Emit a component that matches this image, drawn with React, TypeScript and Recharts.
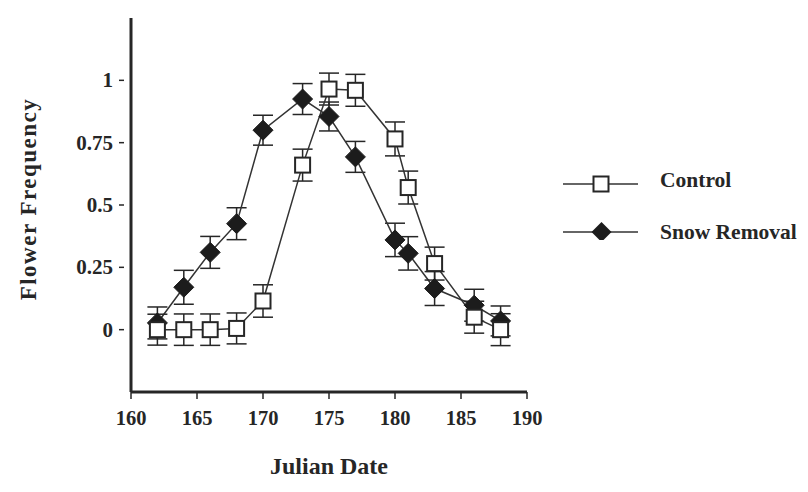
import React from "react";
import { LineChart, Line, XAxis, YAxis, ErrorBar } from "recharts";

const dates = [162, 164, 166, 168, 170, 173, 175, 177, 180, 181, 183, 186, 188];
const controlValues = [0, 0, 0, 0.005, 0.115, 0.66, 0.965, 0.96, 0.765, 0.57, 0.265, 0.05, 0];
const controlErr = [0.062, 0.063, 0.063, 0.062, 0.065, 0.064, 0.064, 0.064, 0.068, 0.066, 0.066, 0.064, 0.064];
const snowValues = [0.027, 0.17, 0.31, 0.425, 0.8, 0.925, 0.855, 0.693, 0.36, 0.306, 0.165, 0.098, 0.035];
const snowErr = [0.064, 0.068, 0.064, 0.064, 0.06, 0.062, 0.058, 0.062, 0.067, 0.067, 0.068, 0.064, 0.06];
const xTicks = [160, 165, 170, 175, 180, 185, 190];
const yTicks = [0, 0.25, 0.5, 0.75, 1];
const seriesNames = ["Control", "Snow Removal"];

const data = dates.map((d, i) => ({
  date: d,
  control: controlValues[i],
  controlErr: controlErr[i],
  snow: snowValues[i],
  snowErr: snowErr[i],
}));

const FONT = "'Liberation Serif', 'Times New Roman', serif";
const INK = "#262626";

const Square = (p: any) => {
  if (p.cx == null || p.cy == null) return null;
  return (
    <rect
      key={`sq-${p.index}`}
      x={p.cx - 7.5}
      y={p.cy - 7.5}
      width={15}
      height={15}
      fill="#fff"
      stroke={INK}
      strokeWidth={2}
    />
  );
};

const Diamond = (p: any) => {
  if (p.cx == null || p.cy == null) return null;
  const r = 10;
  return (
    <polygon
      key={`dm-${p.index}`}
      points={`${p.cx},${p.cy - r} ${p.cx + r},${p.cy} ${p.cx},${p.cy + r} ${p.cx - r},${p.cy}`}
      fill="#1c1c1c"
      stroke="#1c1c1c"
      strokeWidth={1}
    />
  );
};

const YTick = (props: any) => {
  const { x, y, payload } = props;
  return (
    <g>
      <line x1={x - 12} x2={x - 7} y1={y} y2={y} stroke={INK} strokeWidth={1.5} />
      <text
        x={x - 18}
        y={y}
        textAnchor="end"
        dominantBaseline="central"
        fontFamily={FONT}
        fontWeight="bold"
        fontSize={21}
        fill={INK}
      >
        {String(payload.value)}
      </text>
    </g>
  );
};

const yLabel = () => {
  const cx = 28;
  const cy = 199;
  return (
    <text
      x={cx}
      y={cy}
      transform={`rotate(-90 ${cx} ${cy})`}
      textAnchor="middle"
      dominantBaseline="central"
      fontFamily={FONT}
      fontWeight="bold"
      fontSize={23}
      letterSpacing={1.5}
      fill={INK}
    >
      Flower Frequency
    </text>
  );
};

const xLabel = (props: any) => {
  const vb = props.viewBox || {};
  const cx = (vb.x ?? 131) + (vb.width ?? 396) / 2;
  return (
    <text
      x={cx}
      y={466}
      textAnchor="middle"
      dominantBaseline="central"
      fontFamily={FONT}
      fontWeight="bold"
      fontSize={24}
      fill={INK}
    >
      Julian Date
    </text>
  );
};

const legendLineY = [54, 102];
const legendTextY = [50, 102];

const LegendBox = () => (
  <svg width={258} height={110} style={{ position: "absolute", left: 550, top: 130 }}>
    {seriesNames.map((name, i) => {
      const y = legendLineY[i];
      return (
        <g key={name}>
          <line x1={13} x2={88} y1={y} y2={y} stroke="#333" strokeWidth={1.5} />
          {i === 0 ? (
            <rect x={43.5} y={y - 7.5} width={15} height={15} fill="#fff" stroke={INK} strokeWidth={2} />
          ) : (
            <polygon
              points={`51.5,${y - 10} 61.5,${y} 51.5,${y + 10} 41.5,${y}`}
              fill="#1c1c1c"
            />
          )}
          <text
            x={110}
            y={legendTextY[i]}
            dominantBaseline="central"
            fontFamily={FONT}
            fontWeight="bold"
            fontSize={21.5}
            fill={INK}
          >
            {name}
          </text>
        </g>
      );
    })}
  </svg>
);

export default function App() {
  return (
    <div style={{ position: "absolute", left: 0, top: 0, width: 808, height: 492, background: "#fff" }}>
      <LineChart
        width={808}
        height={492}
        data={data}
        margin={{ top: 18, right: 281, bottom: 40, left: 10 }}
      >
        <XAxis
          dataKey="date"
          type="number"
          domain={[160, 190]}
          ticks={xTicks}
          allowDataOverflow
          height={60}
          axisLine={{ stroke: INK, strokeWidth: 3 }}
          tickLine={{ stroke: INK, strokeWidth: 1.5 }}
          tickSize={7}
          tickMargin={11}
          tick={{ fill: INK, fontSize: 20.5, fontWeight: "bold", fontFamily: FONT }}
          label={xLabel}
        />
        <YAxis
          type="number"
          domain={[-0.25, 1.25]}
          ticks={yTicks}
          allowDataOverflow
          width={121}
          axisLine={{ stroke: INK, strokeWidth: 3 }}
          tickLine={false}
          tickSize={0}
          tickMargin={0}
          tick={<YTick />}
          label={yLabel}
        />
        <Line
          dataKey="snow"
          stroke="#333"
          strokeWidth={1.5}
          dot={Diamond}
          activeDot={false}
          isAnimationActive={false}
        >
          <ErrorBar dataKey="snowErr" width={10} stroke={INK} strokeWidth={1.5} isAnimationActive={false} />
        </Line>
        <Line
          dataKey="control"
          stroke="#333"
          strokeWidth={1.5}
          dot={Square}
          activeDot={false}
          isAnimationActive={false}
        >
          <ErrorBar dataKey="controlErr" width={10} stroke={INK} strokeWidth={1.5} isAnimationActive={false} />
        </Line>
      </LineChart>
      <LegendBox />
    </div>
  );
}
